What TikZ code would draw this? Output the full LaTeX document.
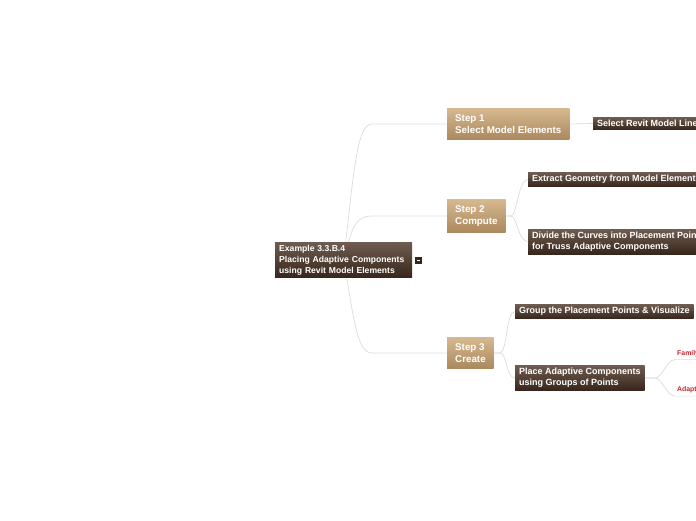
\documentclass[tikz,border=0pt]{standalone}
\usepackage{fontspec}
\setmainfont{Liberation Sans}
\usetikzlibrary{positioning}
\usetikzlibrary{backgrounds}
\definecolor{topicTop}{HTML}{6E5C50}
\definecolor{topicBot}{HTML}{38261C}
\definecolor{stepTop}{HTML}{D6B88F}
\definecolor{stepBot}{HTML}{AB885D}
\definecolor{linkGray}{HTML}{DCDCDC}
\definecolor{tagRed}{HTML}{C0282D}
\tikzset{topic/.style={anchor=west, top color=topicTop, bottom color=topicBot,
   text=white, align=left, inner xsep=4pt, inner ysep=2.8pt,
   font=\bfseries\fontsize{9}{11}\selectfont},
 roottopic/.style={topic, text width=129pt, font=\bfseries\fontsize{8.6}{11}\selectfont},
 stepbox/.style={topic, top color=stepTop, bottom color=stepBot,
   inner xsep=8pt, inner ysep=6pt, font=\bfseries\fontsize{9.8}{12}\selectfont},
 redtag/.style={anchor=base west, text=tagRed, inner xsep=2pt, inner ysep=3pt,
   font=\bfseries\fontsize{6.9}{8}\selectfont},
 link/.style={draw=linkGray, line width=0.7pt},
 }

\begin{document}
\begin{tikzpicture}[x=1pt, y=-1pt]
        \useasboundingbox (0,0) rectangle (696,520);
        \clip (0,0) rectangle (696,520);
        % central topic
        \node[roottopic] (root) at (275,260) {Example 3.3.B.4\\Placing Adaptive Components\\using Revit Model Elements};
        \node[fill=topicBot, minimum size=7pt, inner sep=0pt, anchor=west] (fold) at ([xshift=2pt]root.east) {};
        \draw[white, line width=0.6pt] ([xshift=-1.6pt]fold.center) -- ([xshift=1.6pt]fold.center);
        % steps
        \node[stepbox] (s1) at (447,124) {Step 1\\Select Model Elements};
        \node[stepbox] (s2) at (447,216) {Step 2\\Compute};
        \node[stepbox] (s3) at (447,353) {Step 3\\Create};
        % sub topics
        \node[topic] (m1) at (593,123.5) {Select Revit Model Lines};
        \node[topic] (c1) at (528,179.5) {Extract Geometry from Model Elements};
        \node[topic] (c2) at (528,241.5) {Divide the Curves into Placement Points\\for Truss Adaptive Components};
        \node[topic] (g1) at (515,311.5) {Group the Placement Points \& Visualize};
        \node[topic] (g2) at (515,378) {Place Adaptive Components\\using Groups of Points};
        \node[redtag] (t1) at (675,355) {Family};
        \node[redtag] (t2) at (675,391.5) {Adaptive};
        % connectors
        \begin{scope}[on background layer]
            \draw[link] (root.center) .. controls (354,170) and (357,124) .. (372,124) -- (s1.west);
            \draw[link] (root.center) .. controls (352,226) and (356,216) .. (372,216) -- (s2.west);
            \draw[link] (root.center) .. controls (354,320) and (357,353) .. (372,353) -- (s3.west);
            \draw[link] (s1.east) -- (m1.west);
            \draw[link] (s2.east) -- (511,216) .. controls (517,216) and (518,179.5) .. (c1.west);
            \draw[link] (s2.east) -- (511,216) .. controls (517,216) and (518,241.5) .. (c2.west);
            \draw[link] (s3.east) -- (500,353) .. controls (507,353) and (506,311.5) .. (g1.west);
            \draw[link] (s3.east) -- (500,353) .. controls (507,353) and (506,378) .. (g2.west);
            \draw[link] (g2.east) -- (655,378) .. controls (662,378) and ([xshift=-8pt]t1.south west) .. (t1.south west) -- (t1.south east);
            \draw[link] (g2.east) -- (655,378) .. controls (662,378) and ([xshift=-8pt]t2.south west) .. (t2.south west) -- (t2.south east);
        \end{scope}
    \end{tikzpicture}
\end{document}
